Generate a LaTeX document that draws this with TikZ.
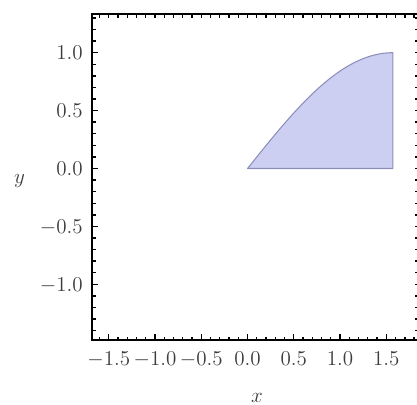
\documentclass[tikz,border=0pt]{standalone}
\usepackage{xcolor}
\usepackage{tikz}
\definecolor{regionblue}{RGB}{205,207,242}
\definecolor{regionedge}{RGB}{140,142,188}
\definecolor{labelgray}{RGB}{60,60,60}
\tikzset{
  frameline/.style={line width=1pt, color=black},
  tickmark/.style={line width=0.8pt, color=black},
  ticklabel/.style={inner sep=0pt, text depth=0pt,
    font=\fontsize{12.5}{14}\selectfont, color=labelgray},
  axislabel/.style={inner sep=0pt,
    font=\fontsize{12.5}{14}\selectfont, color=labelgray},
  regionfill/.style={fill=regionblue, draw=regionedge,
    line width=0.6pt, line join=round}
}

\begin{document}
\begin{tikzpicture}[x=1.85cm, y=2.316cm]
  % Canvas
  \useasboundingbox (-2.676,-2.042) rectangle (1.832,1.455);
  \clip (-2.676,-2.042) rectangle (1.832,1.455);

  % Region under sin x
  \filldraw[regionfill] (0,0) -- plot[domain=0:1.5708, samples=40, smooth] (\x,{sin(\x r)}) -- (1.5708,0) -- cycle;

  % Frame
  \draw[frameline] (-1.681,-1.481) rectangle (1.85,1.334);

  % Bottom and top ticks
  \foreach \t in {-16,...,18} {
    \draw[tickmark] (\t/10,-1.481) -- ++(0,0.07cm);
    \draw[tickmark] (\t/10,1.334) -- ++(0,-0.07cm);
  }
  \foreach \t in {-1.5,-1.0,...,1.5}
    \draw[tickmark] (\t,-1.481) -- ++(0,0.12cm);

  % Left and right ticks
  \foreach \t in {-14,...,13} {
    \draw[tickmark] (-1.681,\t/10) -- ++(0.07cm,0);
    \draw[tickmark] (1.85,\t/10) -- ++(-0.08cm,0);
  }
  \foreach \t in {-1.0,-0.5,...,1.0}
    \draw[tickmark] (-1.681,\t) -- ++(0.12cm,0);

  % Tick labels
  \foreach \t/\lab [count=\i] in {-1.5/$-1.5$, -1/$-1.0$, -0.5/$-0.5$,
      0/$0.0$, 0.5/$0.5$, 1/$1.0$, 1.5/$1.5$}
    \node[ticklabel, anchor=base] (xt\i) at (\t,-1.70) {\lab};
  \foreach \t/\lab [count=\i] in {-1/$-1.0$, -0.5/$-0.5$, 0/$0.0$,
      0.5/$0.5$, 1/$1.0$}
    \node[ticklabel, anchor=east] (yt\i) at (-1.778,\t) {\lab};

  % Axis labels
  \node[axislabel] (xlabel) at (0.103,-1.978) {$x$};
  \node[axislabel] (ylabel) at (-2.465,-0.104) {$y$};
\end{tikzpicture}
\end{document}
